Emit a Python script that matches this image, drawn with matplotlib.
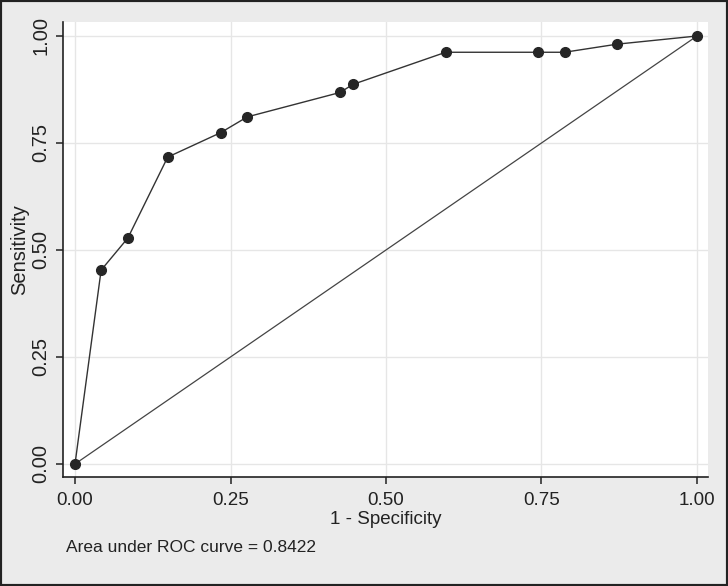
import matplotlib
matplotlib.use("Agg")
import matplotlib.pyplot as plt
from matplotlib.patches import Rectangle

plt.rcParams['font.family'] = ['Liberation Sans', 'DejaVu Sans']

# ROC data (1 - specificity, sensitivity)
fpr = [0.0, 0.042, 0.085, 0.149, 0.234, 0.277, 0.426, 0.447, 0.596, 0.745, 0.787, 0.872, 1.0]
tpr = [0.0, 0.453, 0.528, 0.717, 0.774, 0.811, 0.868, 0.887, 0.962, 0.962, 0.962, 0.981, 1.0]
ticks = [0.0, 0.25, 0.5, 0.75, 1.0]
tick_labels = ["0.00", "0.25", "0.50", "0.75", "1.00"]
auc_text = "Area under ROC curve = 0.8422"

W, H = 728, 586
fig = plt.figure(figsize=(W / 100, H / 100), dpi=100)
fig.patch.set_facecolor('#ebebeb')

ax = fig.add_axes([63 / W, 1 - 477 / H, (708 - 63) / W, (477 - 22) / H])
ax.set_facecolor('white')

ax.set_xlim(-0.0193, 1.0177)
ax.set_ylim(-0.0304, 1.0327)

ax.grid(True, color='#e6e6e6', linewidth=1.0)
ax.set_axisbelow(True)

# reference diagonal
ax.plot([0, 1], [0, 1], color='#444444', linewidth=0.9, zorder=2)
# ROC curve
ax.plot(fpr, tpr, color='#333333', linewidth=1.0, marker='o', markersize=7,
        markerfacecolor='#262626', markeredgecolor='#262626', zorder=3)

for s in ['top', 'right']:
    ax.spines[s].set_visible(False)
for s in ['left', 'bottom']:
    ax.spines[s].set_color('#222222')
    ax.spines[s].set_linewidth(1.2)

ax.set_xticks(ticks)
ax.set_xticklabels(tick_labels, fontsize=13.5, color='#222222')
ax.set_yticks(ticks)
ax.set_yticklabels(tick_labels, fontsize=14.5, color='#222222', rotation=90, va='center')
ax.tick_params(axis='both', direction='out', length=5, width=1.1, color='#222222')
ax.tick_params(axis='x', pad=5.5)
ax.tick_params(axis='y', pad=4)

ax.set_xlabel("1 - Specificity", fontsize=13.5, color='#222222', labelpad=2)
ax.set_ylabel("Sensitivity", fontsize=14.5, color='#222222', labelpad=2)

fig.text(66 / W, 1 - 548 / H, auc_text, fontsize=12.5, color='#222222', va='center', ha='left')

# outer dark border
fig.patches.append(Rectangle((0, 0), 1, 1, transform=fig.transFigure, fill=False,
                             edgecolor='#222222', linewidth=3))

fig.savefig("out.png", dpi=100, facecolor=fig.get_facecolor())
